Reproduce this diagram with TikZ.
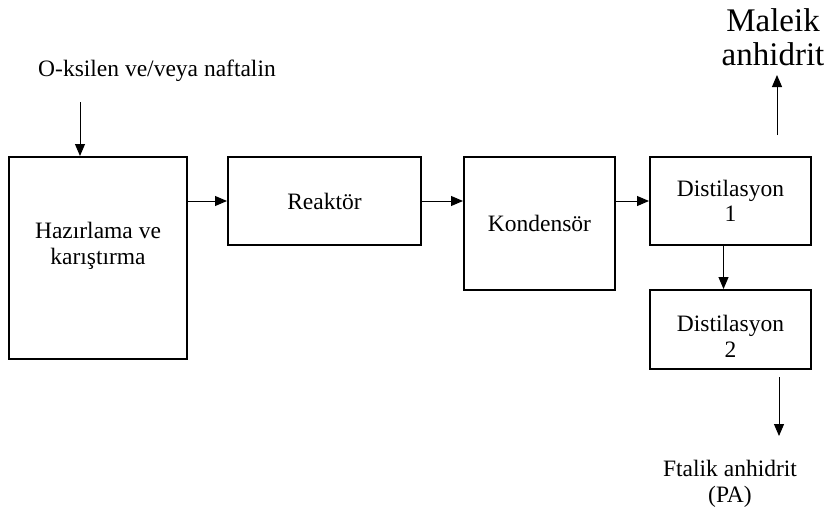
\documentclass[tikz,border=0pt]{standalone}
\usepackage{fontspec}
\setmainfont{Liberation Serif}
\usetikzlibrary{arrows.meta}
\begin{document}
\begin{tikzpicture}[x=1pt,y=-1pt,
  stage/.style={draw,line width=2pt,inner sep=0pt,align=center,anchor=north west,
    font=\fontsize{23.5}{25.5}\selectfont},
  lbl/.style={inner sep=0pt,align=center,font=\fontsize{23.5}{25.5}\selectfont},
  arr/.style={line width=1pt,-{Triangle[length=12pt,width=10pt]}}]
  \useasboundingbox (0,0) rectangle (829,509);
  % process stages
  \node[stage,minimum width=178pt,minimum height=202pt] (mix) at (8,156) {};
  \node[lbl] (mixtext) at ([yshift=12pt]mix.center) {Hazırlama ve\\karıştırma};
  \node[stage,minimum width=193pt,minimum height=88pt] (reac) at (227,156) {Reaktör};
  \node[stage,minimum width=151pt,minimum height=133pt] (cond) at (463,156) {Kondensör};
  \node[stage,minimum width=161pt,minimum height=88pt] (dist1) at (649,156) {Distilasyon\\1};
  \node[stage,minimum width=161pt,minimum height=79pt] (dist2) at (649,289) {};
  \node[lbl] (dist2text) at ([yshift=-7pt]dist2.center) {Distilasyon\\2};
  % feed and products
  \node[lbl] (feed) at (157,71) {O-ksilen ve/veya naftalin};
  \node[lbl,font=\fontsize{33}{34}\selectfont] (ma) at (773,37) {Maleik\\anhidrit};
  \node[lbl] (pa) at (730,484) {Ftalik anhidrit\\(PA)};
  \coordinate (feedtop) at (80,102);
  \coordinate (maout) at (777,135);
  \coordinate (matip) at (777,75);
  \coordinate (paout) at (779,377);
  \coordinate (patip) at (779,436);
  % connectors
  \draw[arr] (feedtop) -- (feedtop |- mix.north);
  \draw[arr] (mix.east |- reac.west) -- (reac.west);
  \draw[arr] (reac.east) -- (reac.east -| cond.west);
  \draw[arr] (cond.east |- dist1.west) -- (dist1.west);
  \draw[arr] ([xshift=-7pt]dist1.south) -- ([xshift=-7pt]dist2.north);
  \draw[arr] (maout) -- (matip);
  \draw[arr] (paout) -- (patip);
\end{tikzpicture}
\end{document}
